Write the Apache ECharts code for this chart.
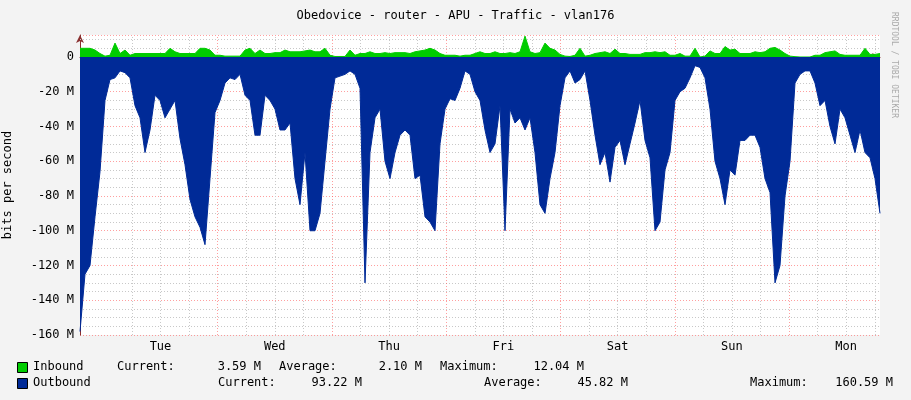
<!DOCTYPE html>
<html><head><meta charset="utf-8">
<script src="https://cdn.jsdelivr.net/npm/echarts@6/dist/echarts.min.js"></script>
<style>html,body{margin:0;padding:0;background:#f3f3f3}#c{width:911px;height:400px}</style>
</head><body><div id="c"></div>
<script>
// Sample spacing: 1.05 h, first sample 4.9 h before Tuesday 00:00
const START_HOUR = -4.9, STEP_HOUR = 1.05;
const outbound = [ // Mbit/s (drawn negative)
158,125,120,92,66,25,13,12,8,9,12,28,35,55,42,22,25,35,30,25,47,62,82,92,98,108,70,32,
25,15,12,13,10,22,25,45,45,22,25,30,42,42,38,70,85,55,100,100,90,60,30,12,11,10,8,
10,18,130,55,35,30,60,70,55,45,42,45,70,68,92,95,100,50,30,24,25,18,8,10,20,25,42,55,
50,28,100,30,38,35,42,35,55,85,90,70,55,28,12,8,15,13,8,25,45,62,55,72,52,48,62,
50,38,25,48,58,100,95,65,55,25,20,18,12,5,6,12,30,60,70,85,65,68,48,48,45,45,52,
70,78,130,120,80,60,15,10,8,8,15,28,25,40,50,30,35,45,55,42,55,58,70,90];
const inbound = [ // Mbit/s
5,5,5,4,2,0.5,1,8,2,4,1,2,2,2,2,2,2,2,5,3,2,2,2,2,5,5,4,1,
1,0.5,0.5,0.5,0.5,4,5,2,4,2,2,2.5,2.5,4,3,3,3,3.5,4,3,3,5,1,0.3,0.3,0.3,4,
1,2,2,3,2,2,2.5,2,2.5,2.5,2.5,2,3,3.5,4,5,4,2,1,1,1,0.5,1,1,2,3,2,2,
3,2,2,2.5,2,3,12,3,2,2.5,8,5,4,1.5,0.5,0.3,1,5,0.5,1,2,2.5,3,2,4.5,2,2,
1.5,1.5,1.5,2.5,2.5,3,2.5,3,1,1,2,0.5,0.5,5,0,0.5,3.5,2,2,6,4,4.5,2,2,2,3,2.5,
3,5,5.5,4,2,0.5,0.2,0,0,0,1,1,2.5,3,3.5,1.5,1,1,1,1,5,1.5,1.5,2];
const dayLabels = {12:'Tue',36:'Wed',60:'Thu',84:'Fri',108:'Sat',132:'Sun',156:'Mon'};
const yTicks = [-160,-140,-120,-100,-80,-60,-40,-20,0];
const legendIn = {name:'Inbound', cur:'3.59 M', avg:'2.10 M', max:'12.04 M'};
const legendOut = {name:'Outbound', cur:'93.22 M', avg:'45.82 M', max:'160.59 M'};
const title = 'Obedovice - router - APU - Traffic - vlan176';

const outData = outbound.map((v,i)=>[START_HOUR+i*STEP_HOUR,-v]);
const inData = inbound.map((v,i)=>[START_HOUR+i*STEP_HOUR,v]);
const END = START_HOUR+168;
const vLines=[];
for(let h=6;h<END;h+=6){vLines.push({xAxis:h,lineStyle:{color:h%24===0?'rgba(255,80,80,0.55)':'#c8c8c8',type:[1,2],width:1}});}
const hLines=[5,10].map(v=>({yAxis:v,lineStyle:{color:'#c8c8c8',type:[1,2],width:1}}));
const mono='DejaVu Sans Mono';
const T=(x,y,t,align)=>({type:'text',left:align==='right'?undefined:x,right:align==='right'?911-x:undefined,top:y,style:{text:t,font:'12px '+mono,fill:'#000'}});
const chart=echarts.init(document.getElementById('c'));
chart.setOption({
 backgroundColor:'#f3f3f3',animation:false,
 title:{text:title,left:'center',top:5,textStyle:{fontFamily:mono,fontSize:12,fontWeight:'normal',color:'#000'}},
 grid:{left:80,right:31,top:35,bottom:65,show:true,backgroundColor:'#fff',borderWidth:0,containLabel:false,outerBoundsMode:'none'},
 xAxis:{type:'value',min:START_HOUR,max:END,
  axisLine:{lineStyle:{color:'#8a3030'},symbol:['none','arrow'],symbolSize:[6,8]},
  axisTick:{show:false},splitLine:{show:false},
  axisLabel:{customValues:Object.keys(dayLabels).map(Number),formatter:v=>dayLabels[Math.round(v)]||'',fontFamily:mono,fontSize:12,color:'#000',margin:6}},
 yAxis:{type:'value',min:-160,max:12.66,interval:20,
  name:'bits per second',nameLocation:'middle',nameGap:66,nameRotate:90,nameTextStyle:{fontFamily:mono,fontSize:12,color:'#000'},
  axisLine:{show:true,onZero:false,lineStyle:{color:'#8a3030'},symbol:['none','arrow'],symbolSize:[6,8]},
  axisTick:{show:false},
  axisLabel:{customValues:yTicks,formatter:v=>v===0?'0':v+' M',fontFamily:mono,fontSize:12,color:'#000',margin:6},
  splitLine:{show:true,lineStyle:{color:'rgba(255,80,80,0.55)',type:[1,2]}},
  minorTick:{show:false,splitNumber:4},
  minorSplitLine:{show:true,lineStyle:{color:'#c8c8c8',type:[1,2]}}},
 series:[
  {type:'line',data:[],z:1,silent:true,
   markLine:{silent:true,symbol:'none',label:{show:false},z:1,data:vLines.concat(hLines)}},
  {type:'line',data:inData,showSymbol:false,lineStyle:{width:1,color:'#00cc00'},areaStyle:{color:'#00cc00',opacity:1},z:3},
  {type:'line',data:outData,showSymbol:false,lineStyle:{width:1,color:'#002a97'},areaStyle:{color:'#002a97',opacity:1},z:4}
 ],
 graphic:[
  {type:'rect',left:17,top:362,shape:{width:10,height:10},style:{fill:'#00cc00',stroke:'#000'}},
  {type:'rect',left:17,top:378,shape:{width:10,height:10},style:{fill:'#002a97',stroke:'#000'}},
  T(33,361,legendIn.name),T(117,361,'Current:'),T(261,361,legendIn.cur,'right'),
  T(279,361,'Average:'),T(422,361,legendIn.avg,'right'),T(440,361,'Maximum:'),T(584,361,legendIn.max,'right'),
  T(33,377,legendOut.name),T(218,377,'Current:'),T(362,377,legendOut.cur,'right'),
  T(484,377,'Average:'),T(628,377,legendOut.avg,'right'),T(750,377,'Maximum:'),T(893,377,legendOut.max,'right'),
  {type:'text',x:898,y:12,rotation:-Math.PI/2,style:{text:'RRDTOOL / TOBI OETIKER',font:'8px '+mono,fill:'#aaa'}}
 ]
});
</script></body></html>
